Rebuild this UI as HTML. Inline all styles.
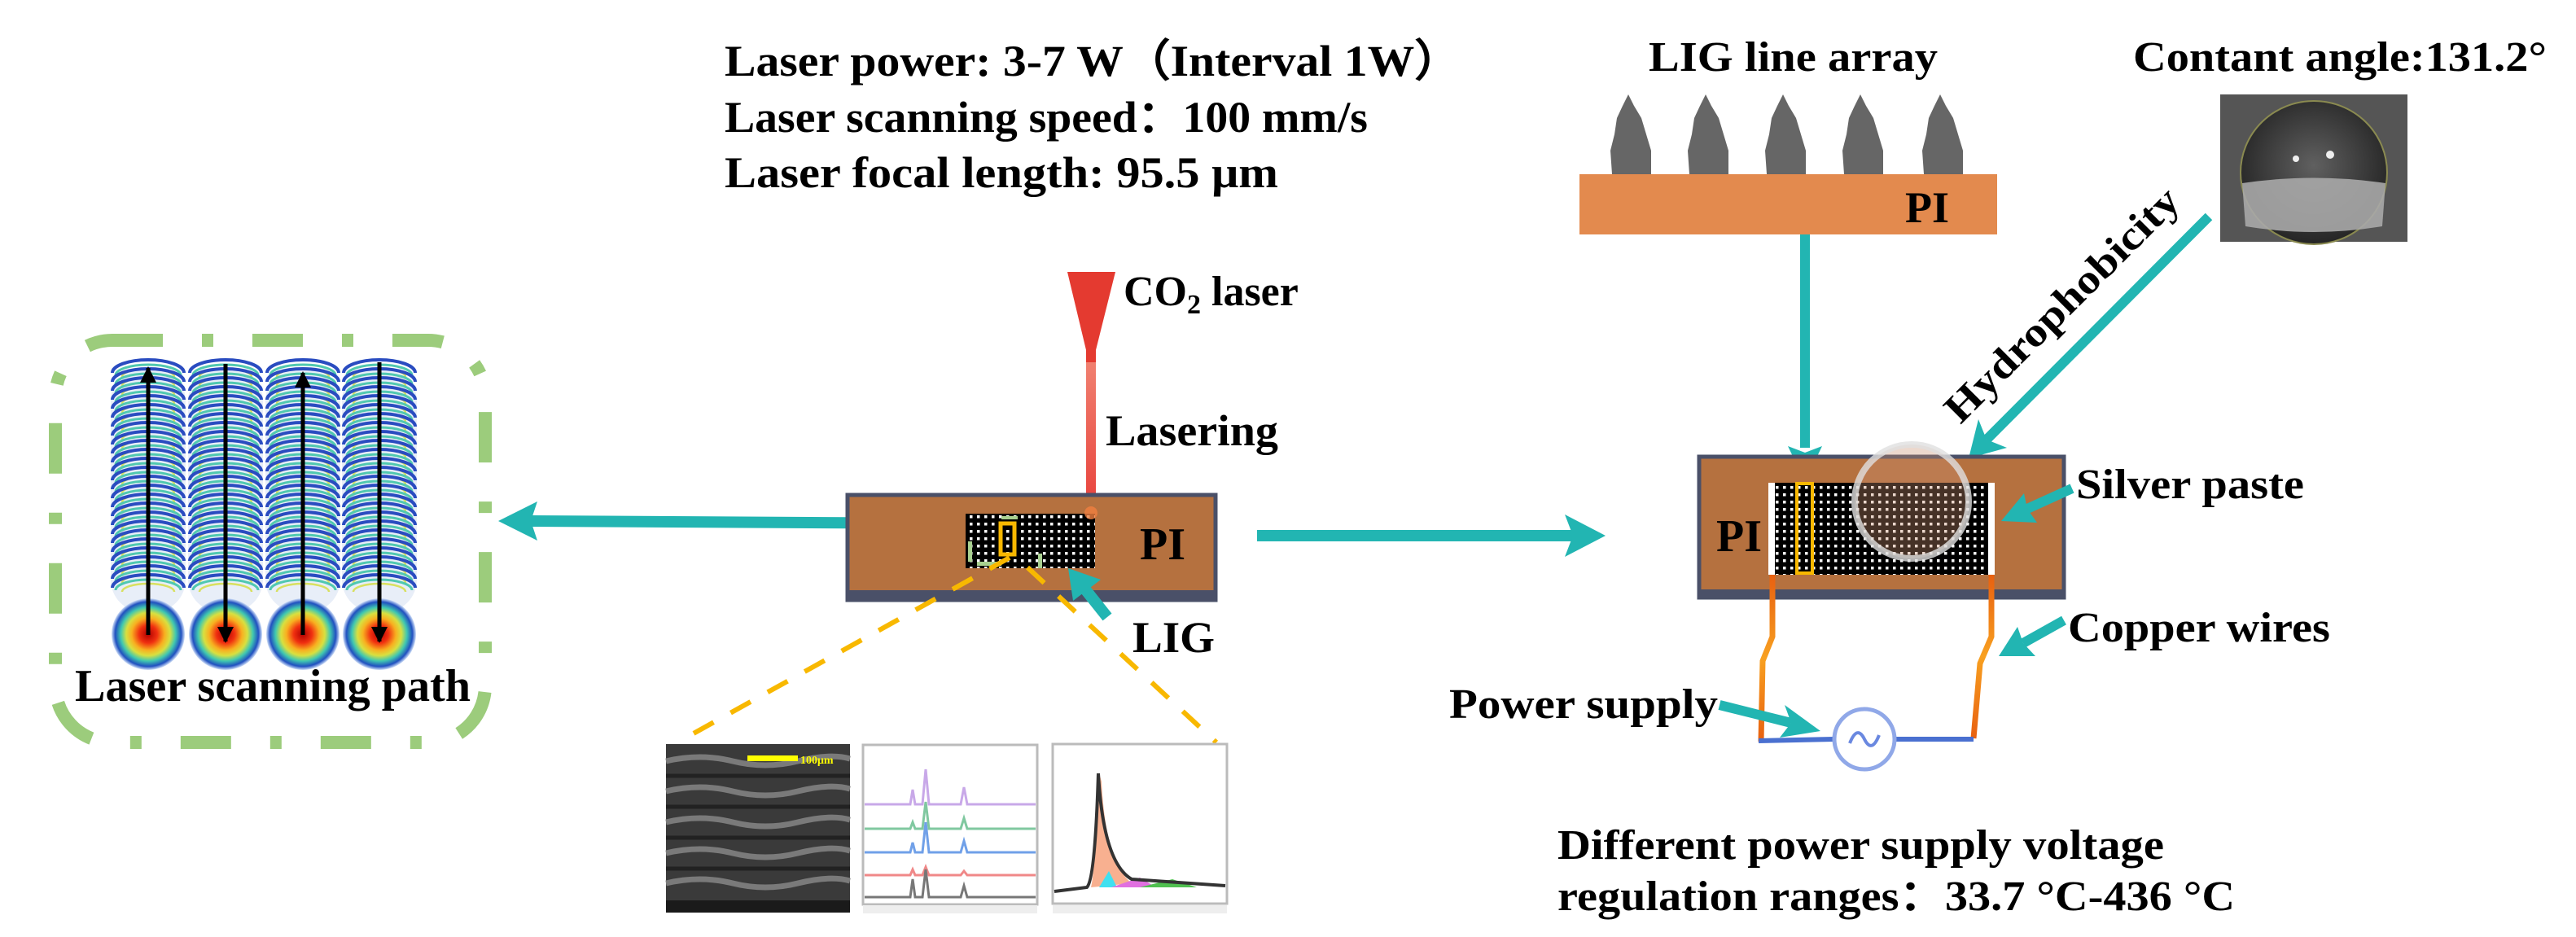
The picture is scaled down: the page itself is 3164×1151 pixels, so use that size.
<!DOCTYPE html>
<html><head><meta charset="utf-8"><style>
html,body{margin:0;padding:0;background:#fff;}
svg{display:block;}
text{font-family:"Liberation Serif",serif;font-weight:bold;fill:#000;}
</style></head><body>
<svg width="3164" height="1151" viewBox="0 0 3164 1151" xmlns="http://www.w3.org/2000/svg">
<defs>
  <pattern id="dots" width="9" height="9" patternUnits="userSpaceOnUse">
    <rect width="9" height="9" fill="#000"/><rect x="3" y="3" width="3.5" height="3.5" fill="#fff"/>
  </pattern>
  <radialGradient id="spot" cx="50%" cy="50%" r="50%">
    <stop offset="0" stop-color="#b00000"/><stop offset="0.25" stop-color="#f03010"/>
    <stop offset="0.45" stop-color="#f8b020"/><stop offset="0.6" stop-color="#d8e040"/>
    <stop offset="0.75" stop-color="#40c8b0"/><stop offset="0.9" stop-color="#2050c0"/>
    <stop offset="1" stop-color="#d0e0f8"/>
  </radialGradient>
  <linearGradient id="laser" x1="0" y1="0" x2="0" y2="1">
    <stop offset="0" stop-color="#f08070"/><stop offset="1" stop-color="#e8403a"/>
  </linearGradient>
  <linearGradient id="wire" x1="0" y1="0" x2="0" y2="1">
    <stop offset="0" stop-color="#e86010"/><stop offset="0.5" stop-color="#f8a020"/><stop offset="1" stop-color="#e86010"/>
  </linearGradient>
  <radialGradient id="drop" cx="50%" cy="45%" r="55%">
    <stop offset="0" stop-color="#606060"/><stop offset="1" stop-color="#252525"/>
  </radialGradient>
  <g id="arc">
    <path d="M -44 6 A 44 16 0 0 1 44 6" fill="none" stroke="#2a4cc0" stroke-width="4"/>
    <path d="M -40 9 A 40 13 0 0 1 40 9" fill="none" stroke="#50c8b0" stroke-width="3"/>
    <path d="M -32 11 A 32 10 0 0 1 32 11" fill="none" stroke="#d8e060" stroke-width="2.5"/>
  </g>
  <g id="col">
    <rect x="-46" y="452" width="92" height="300" rx="40" fill="#e8eef8"/>
    <use href="#arc" y="452"/><use href="#arc" y="463"/><use href="#arc" y="474"/><use href="#arc" y="485"/>
    <use href="#arc" y="496"/><use href="#arc" y="507"/><use href="#arc" y="518"/><use href="#arc" y="529"/>
    <use href="#arc" y="540"/><use href="#arc" y="551"/><use href="#arc" y="562"/><use href="#arc" y="573"/>
    <use href="#arc" y="584"/><use href="#arc" y="595"/><use href="#arc" y="606"/><use href="#arc" y="617"/>
    <use href="#arc" y="628"/><use href="#arc" y="639"/><use href="#arc" y="650"/><use href="#arc" y="661"/>
    <use href="#arc" y="672"/><use href="#arc" y="683"/><use href="#arc" y="694"/><use href="#arc" y="705"/>
    <use href="#arc" y="716"/>
    <ellipse cx="0" cy="779" rx="45" ry="44" fill="url(#spot)"/>
  </g>
  <marker id="bk" viewBox="0 0 10 10" refX="9" refY="5" markerWidth="4" markerHeight="5" orient="auto">
    <path d="M0,0 L10,5 L0,10 z" fill="#000"/>
  </marker>
</defs>

<!-- Parameter text -->
<text x="890" y="93" font-size="54" textLength="905" lengthAdjust="spacingAndGlyphs">Laser power: 3-7 W（Interval 1W）</text>
<text x="890" y="162" font-size="54" textLength="790" lengthAdjust="spacingAndGlyphs">Laser scanning speed：100 mm/s</text>
<text x="890" y="230" font-size="54" textLength="680" lengthAdjust="spacingAndGlyphs">Laser focal length: 95.5 μm</text>

<!-- Left dashed box -->
<rect x="68" y="418" width="528" height="494" rx="70" fill="none" stroke="#9ccc7c" stroke-width="16" stroke-dasharray="62,48,14,48"/>
<use href="#col" x="182"/><use href="#col" x="277"/><use href="#col" x="372"/><use href="#col" x="466"/>
<line x1="182" y1="780" x2="182" y2="452" stroke="#000" stroke-width="5" marker-end="url(#bk)"/>
<line x1="277" y1="447" x2="277" y2="788" stroke="#000" stroke-width="5" marker-end="url(#bk)"/>
<line x1="372" y1="780" x2="372" y2="458" stroke="#000" stroke-width="5" marker-end="url(#bk)"/>
<line x1="466" y1="445" x2="466" y2="788" stroke="#000" stroke-width="5" marker-end="url(#bk)"/>
<text x="92" y="861" font-size="56" textLength="486" lengthAdjust="spacingAndGlyphs">Laser scanning path</text>

<!-- Left arrow -->
<line x1="1178" y1="643" x2="650" y2="640" stroke="#22b5b2" stroke-width="14"/>
<path d="M612,640 L660,616 L652,640 L660,664 Z" fill="#22b5b2"/>

<!-- Laser -->
<path d="M1311,334 L1370,334 L1346,430 L1346,447 L1334,447 L1334,430 Z" fill="#e43a30"/>
<rect x="1334" y="445" width="12" height="185" fill="url(#laser)"/>
<text x="1380" y="375" font-size="52">CO<tspan font-size="34" dy="10">2</tspan><tspan dy="-10"> laser</tspan></text>
<text x="1358" y="547" font-size="54" textLength="212" lengthAdjust="spacingAndGlyphs">Lasering</text>

<!-- Left PI box -->
<rect x="1041" y="608" width="452" height="129" fill="#b5713f" stroke="#4a5068" stroke-width="5"/>
<rect x="1041" y="725" width="452" height="12" fill="#4a5068"/>
<rect x="1186" y="631" width="159" height="67" fill="url(#dots)"/>
<rect x="1189" y="665" width="5" height="25" fill="#a8d090"/>
<rect x="1200" y="690" width="30" height="5" fill="#a8d090"/>
<rect x="1230" y="634" width="20" height="4" fill="#a8d090"/>
<rect x="1275" y="680" width="5" height="18" fill="#a8d090"/>
<rect x="1229" y="643" width="17" height="38" fill="none" stroke="#f8b800" stroke-width="5"/>
<circle cx="1340" cy="630" r="8" fill="#f08040" opacity="0.8"/>
<text x="1400" y="687" font-size="56">PI</text>
<line x1="1360" y1="758" x2="1325" y2="714" stroke="#22b5b2" stroke-width="14"/>
<path d="M1312,698 L1352,712 L1318,738 Z" fill="#22b5b2"/>
<text x="1391" y="801" font-size="54" textLength="101" lengthAdjust="spacingAndGlyphs">LIG</text>

<!-- Dashed zoom lines -->
<line x1="1240" y1="685" x2="841" y2="907" stroke="#f8b800" stroke-width="6" stroke-dasharray="28,24"/>
<line x1="1262" y1="697" x2="1494" y2="912" stroke="#f8b800" stroke-width="6" stroke-dasharray="28,24"/>

<!-- SEM image -->
<rect x="818" y="914" width="226" height="207" fill="#3a3a3a"/>
<g fill="none" stroke="#8a8a8a" stroke-width="7" opacity="0.8">
  <path d="M818,935 Q860,925 900,935 T980,935 T1044,932"/>
  <path d="M818,972 Q860,962 900,972 T980,972 T1044,969"/>
  <path d="M818,1010 Q860,1000 900,1010 T980,1010 T1044,1007"/>
  <path d="M818,1048 Q860,1038 900,1048 T980,1048 T1044,1045"/>
  <path d="M818,1085 Q860,1075 900,1085 T980,1085 T1044,1082"/>
</g>
<g fill="none" stroke="#222" stroke-width="5">
  <path d="M818,953 H1044"/><path d="M818,991 H1044"/><path d="M818,1029 H1044"/><path d="M818,1067 H1044"/>
</g>
<rect x="918" y="928" width="62" height="7" fill="#ffff00"/>
<text x="983" y="938" font-size="14" style="fill:#ffff00">100μm</text>
<rect x="818" y="1106" width="226" height="15" fill="#1a1a1a"/>

<!-- Raman -->
<rect x="1060" y="915" width="214" height="196" fill="#fff" stroke="#bbb" stroke-width="3"/>
<path d="M1062,988 H1118 L1121,970 L1124,988 L1133,988 L1137,945 L1141,988 H1180 L1184,967 L1188,988 H1272" fill="none" stroke="#c8a8e8" stroke-width="3"/>
<path d="M1062,1018 H1118 L1121,1010 L1124,1018 L1133,1018 L1137,985 L1141,1018 H1180 L1184,1005 L1188,1018 H1272" fill="none" stroke="#80c8a0" stroke-width="3"/>
<path d="M1062,1047 H1118 L1121,1035 L1124,1047 L1133,1047 L1137,1010 L1141,1047 H1180 L1184,1033 L1188,1047 H1272" fill="none" stroke="#70a0e8" stroke-width="3"/>
<path d="M1062,1075 H1118 L1121,1068 L1124,1075 L1133,1075 L1137,1065 L1141,1075 H1180 L1184,1070 L1188,1075 H1272" fill="none" stroke="#f08888" stroke-width="3"/>
<path d="M1062,1102 H1118 L1121,1080 L1124,1102 L1133,1102 L1137,1068 L1141,1102 H1180 L1184,1088 L1188,1102 H1272" fill="none" stroke="#777" stroke-width="3"/>
<rect x="1060" y="1112" width="214" height="10" fill="#eee"/>

<!-- XPS -->
<rect x="1293" y="914" width="214" height="196" fill="#fff" stroke="#bbb" stroke-width="3"/>
<path d="M1340,1090 Q1345,1070 1348,960 L1350,950 L1353,960 Q1358,1060 1390,1085 Z" fill="#f8b090"/>
<path d="M1350,1090 L1362,1070 L1372,1090 Z" fill="#40e0f0"/>
<path d="M1365,1090 L1400,1078 L1420,1090 Z" fill="#e070e0"/>
<path d="M1400,1090 L1440,1080 L1470,1090 Z" fill="#50c050"/>
<path d="M1295,1095 L1335,1090 Q1345,1080 1349,950 Q1355,1060 1390,1080 L1505,1088" fill="none" stroke="#333" stroke-width="4"/>
<rect x="1293" y="1112" width="214" height="10" fill="#eee"/>

<!-- Middle arrow -->
<line x1="1544" y1="658" x2="1935" y2="658" stroke="#22b5b2" stroke-width="14"/>
<path d="M1972,658 L1922,632 L1932,658 L1922,684 Z" fill="#22b5b2"/>

<!-- LIG line array -->
<text x="2025" y="87" font-size="52" textLength="355" lengthAdjust="spacingAndGlyphs">LIG line array</text>
<g fill="#666">
  <path id="pk" d="M1980,214 L1978,185 L1983,165 L1986,145 L1993,130 L2000,116 L2007,130 L2016,145 L2022,165 L2028,185 L2028,214 Z"/>
  <use href="#pk" x="95"/><use href="#pk" x="190"/><use href="#pk" x="285"/><use href="#pk" x="383"/>
</g>
<rect x="1940" y="214" width="513" height="74" fill="#e38a4e"/>
<text x="2340" y="273" font-size="54">PI</text>
<line x1="2217" y1="288" x2="2217" y2="550" stroke="#22b5b2" stroke-width="12"/>
<path d="M2217,592 L2196,548 L2217,556 L2238,548 Z" fill="#22b5b2"/>

<!-- Contact angle -->
<text x="2620" y="87" font-size="52" textLength="508" lengthAdjust="spacingAndGlyphs">Contant angle:131.2°</text>
<rect x="2727" y="116" width="230" height="181" fill="#555"/>
<ellipse cx="2842" cy="212" rx="90" ry="88" fill="url(#drop)" stroke="#8a8a50" stroke-width="2"/>
<path d="M2754,225 Q2842,212 2930,225 L2926,278 Q2842,292 2758,278 Z" fill="#a8a8a8" opacity="0.9"/>
<circle cx="2820" cy="195" r="4" fill="#eee"/><circle cx="2862" cy="190" r="5" fill="#eee"/>

<!-- Hydrophobicity -->
<line x1="2713" y1="266" x2="2440" y2="540" stroke="#22b5b2" stroke-width="12"/>
<path d="M2418,563 L2430,515 L2440,540 L2465,550 Z" fill="#22b5b2"/>
<text transform="translate(2408,522) rotate(-45)" font-size="50" textLength="385" lengthAdjust="spacingAndGlyphs">Hydrophobicity</text>

<!-- Right PI box -->
<rect x="2087" y="561" width="448" height="173" fill="#b5713f" stroke="#4a5068" stroke-width="5"/>
<rect x="2087" y="724" width="448" height="10" fill="#4a5068"/>
<rect x="2172" y="593" width="278" height="113" fill="#fff"/>
<rect x="2180" y="593" width="262" height="113" fill="url(#dots)"/>
<rect x="2207" y="594" width="19" height="110" fill="none" stroke="#f8b800" stroke-width="4"/>
<circle cx="2348" cy="616" r="70" fill="#c89070" fill-opacity="0.35" stroke="#e0e0e0" stroke-width="8" stroke-opacity="0.8"/>
<text x="2108" y="677" font-size="56">PI</text>
<text x="2550" y="612" font-size="52" textLength="280" lengthAdjust="spacingAndGlyphs">Silver paste</text>
<line x1="2545" y1="600" x2="2490" y2="625" stroke="#22b5b2" stroke-width="12"/>
<path d="M2458,640 L2486,606 L2490,625 L2502,642 Z" fill="#22b5b2"/>

<!-- Wires -->
<path d="M2177,706 L2177,782 L2165,812 L2163,911" fill="none" stroke="url(#wire)" stroke-width="7"/>
<path d="M2446,706 L2446,782 L2432,815 L2424,907" fill="none" stroke="url(#wire)" stroke-width="7"/>
<path d="M2160,910 L2252,908 M2328,908 L2424,908" stroke="#4a70d0" stroke-width="6"/>
<circle cx="2290" cy="908" r="37" fill="#fff" stroke="#90a8e8" stroke-width="5"/>
<path d="M2272,913 Q2281,890 2290,908 T2308,903" fill="none" stroke="#6a88e0" stroke-width="4"/>
<text x="2540" y="788" font-size="52" textLength="322" lengthAdjust="spacingAndGlyphs">Copper wires</text>
<line x1="2535" y1="762" x2="2485" y2="790" stroke="#22b5b2" stroke-width="12"/>
<path d="M2455,806 L2478,770 L2485,790 L2500,806 Z" fill="#22b5b2"/>
<text x="1780" y="882" font-size="52" textLength="330" lengthAdjust="spacingAndGlyphs">Power supply</text>
<line x1="2112" y1="866" x2="2200" y2="888" stroke="#22b5b2" stroke-width="12"/>
<path d="M2236,898 L2192,866 L2200,888 L2186,906 Z" fill="#22b5b2"/>

<!-- Bottom text -->
<text x="1913" y="1055" font-size="52" textLength="745" lengthAdjust="spacingAndGlyphs">Different power supply voltage</text>
<text x="1913" y="1118" font-size="52" textLength="832" lengthAdjust="spacingAndGlyphs">regulation ranges：33.7 °C-436 °C</text>
</svg>
</body></html>
